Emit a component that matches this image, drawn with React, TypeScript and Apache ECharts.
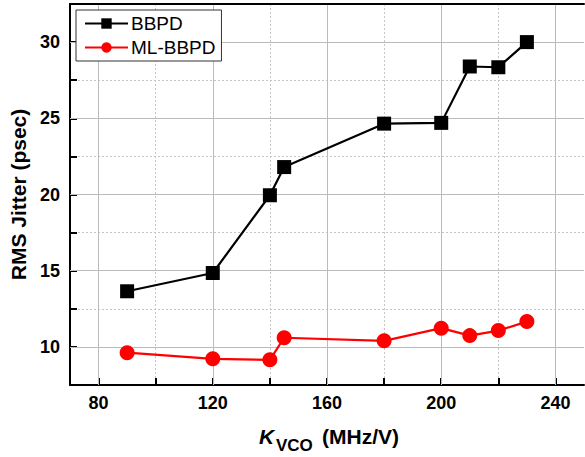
import React, { useEffect, useRef } from "react";
import * as echarts from "echarts";

const kvco = [90, 120, 140, 145, 180, 200, 210, 220, 230];
const bbpd = [13.65, 14.85, 19.95, 21.8, 24.65, 24.7, 28.4, 28.35, 30.0];
const mlBbpd = [9.62, 9.22, 9.15, 10.6, 10.4, 11.23, 10.74, 11.07, 11.66];

const xMajor = [80, 120, 160, 200, 240];
const xAllTicks = [80, 100, 120, 140, 160, 180, 200, 220, 240];
const yMajor = [10, 15, 20, 25, 30];
const yAllTicks = [10, 12.5, 15, 17.5, 20, 22.5, 25, 27.5, 30];

const X_MIN = 70;
const X_MAX = 250;
const Y_MIN = 7.5;
const Y_MAX = 32.5;

const FONT = 'Arial, "Liberation Sans", Helvetica, sans-serif';
const MINOR_GRID = { show: true, lineStyle: { color: "#c6c6c6", width: 1, type: [2, 2] } };
const MAJOR_GRID = { show: true, lineStyle: { color: "#bbbbbb", width: 1, type: "solid" } };

export default function App() {
  const ref = useRef<HTMLDivElement>(null);
  useEffect(() => {
    if (!ref.current) return;
    const chart = echarts.init(ref.current, undefined, { renderer: "svg" });
    chart.setOption({
      animation: false,
      backgroundColor: "#fff",
      textStyle: { fontFamily: FONT },
      grid: { left: 70, right: 1, top: 4, bottom: 72, containLabel: false, outerBoundsMode: "none" },
      legend: {
        orient: "vertical",
        left: 76,
        top: 10,
        padding: [4, 6, 4, 8],
        itemGap: 5,
        itemWidth: 43,
        itemHeight: 13,
        borderColor: "#333",
        borderWidth: 1,
        backgroundColor: "#fff",
        textStyle: { fontSize: 19, color: "#000", fontFamily: FONT, padding: [0, 0, 0, -2] },
        data: ["BBPD", "ML-BBPD"],
      },
      graphic: [
        {
          type: "text",
          x: 259,
          y: 436,
          z: 10,
          style: { text: "K", font: `italic bold 21px ${FONT}`, fill: "#000", verticalAlign: "middle" },
        },
        {
          type: "text",
          x: 276,
          y: 445,
          z: 10,
          style: { text: "VCO", font: `bold 17px ${FONT}`, fill: "#000", verticalAlign: "middle" },
        },
        {
          type: "text",
          x: 322,
          y: 436,
          z: 10,
          style: { text: "(MHz/V)", font: `bold 21px ${FONT}`, fill: "#000", verticalAlign: "middle" },
        },
      ],
      xAxis: [
        {
          type: "value",
          position: "bottom",
          min: X_MIN,
          max: X_MAX,
          axisLine: { show: true, lineStyle: { color: "#000", width: 2 } },
          axisTick: {
            show: true,
            inside: true,
            length: 7,
            customValues: xAllTicks,
            lineStyle: { color: "#000", width: 2 },
          },
          axisLabel: {
            customValues: xMajor,
            fontSize: 18,
            fontWeight: "bold",
            color: "#000",
            margin: 9,
            fontFamily: FONT,
          },
          splitLine: MINOR_GRID,
          z: 1,
        },
        {
          type: "value",
          position: "top",
          min: X_MIN,
          max: X_MAX,
          axisLine: { show: true, lineStyle: { color: "#000", width: 2 } },
          axisTick: { show: false, customValues: xMajor },
          axisLabel: { show: false, customValues: xMajor },
          splitLine: MAJOR_GRID,
          z: 2,
        },
      ],
      yAxis: [
        {
          type: "value",
          position: "left",
          min: Y_MIN,
          max: Y_MAX,
          name: "RMS Jitter (psec)",
          nameLocation: "middle",
          nameRotate: 90,
          nameGap: 38,
          nameTextStyle: { fontSize: 21, fontWeight: "bold", color: "#000", fontFamily: FONT },
          axisLine: { show: true, lineStyle: { color: "#000", width: 2 } },
          axisTick: {
            show: true,
            inside: true,
            length: 7,
            customValues: yAllTicks,
            lineStyle: { color: "#000", width: 2 },
          },
          axisLabel: {
            customValues: yMajor,
            fontSize: 18,
            fontWeight: "bold",
            color: "#000",
            margin: 10,
            fontFamily: FONT,
          },
          splitLine: MINOR_GRID,
          z: 1,
        },
        {
          type: "value",
          position: "right",
          min: Y_MIN,
          max: Y_MAX,
          axisLine: { show: false },
          axisTick: { show: false, customValues: yMajor },
          axisLabel: { show: false, customValues: yMajor },
          splitLine: MAJOR_GRID,
          z: 2,
        },
      ],
      series: [
        {
          name: "BBPD",
          type: "line",
          xAxisIndex: 0,
          yAxisIndex: 0,
          data: kvco.map((x, i) => [x, bbpd[i]]),
          symbol: "rect",
          symbolSize: 14,
          itemStyle: { color: "#000" },
          lineStyle: { color: "#000", width: 2.2 },
          z: 3,
        },
        {
          name: "ML-BBPD",
          type: "line",
          xAxisIndex: 0,
          yAxisIndex: 0,
          data: kvco.map((x, i) => [x, mlBbpd[i]]),
          symbol: "circle",
          symbolSize: 15,
          itemStyle: { color: "#ff0000" },
          lineStyle: { color: "#ff0000", width: 2.2 },
          z: 3,
        },
      ],
    });
    return () => chart.dispose();
  }, []);
  return (
    <div
      ref={ref}
      style={{ position: "absolute", left: 0, top: 0, width: 585, height: 457, background: "#fff" }}
    />
  );
}
